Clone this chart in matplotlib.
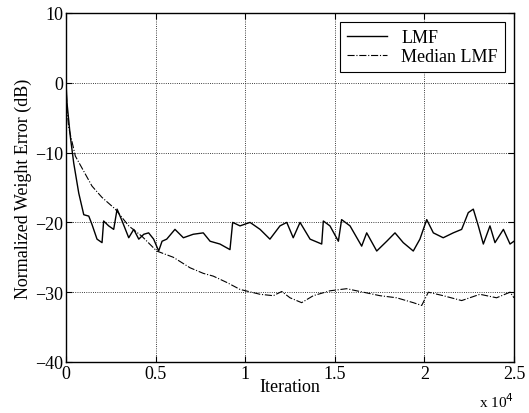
import matplotlib.pyplot as plt

# values (iteration, dB)
lmf_iter = [0, 56, 240, 430, 710, 990, 1270, 1450, 1730, 2010, 2100, 2380, 2660, 2850,
            3130, 3500, 3780, 4060, 4340, 4610, 4890, 5170, 5360, 5620, 6080, 6550, 7100,
            7660, 8040, 8590, 9150, 9300, 9710, 10270, 10830, 11380, 11940, 12320, 12680,
            13060, 13620, 14270, 14360, 14730, 15200, 15380, 15850, 16500, 16780, 17340,
            17900, 18360, 18820, 19380, 19750, 20130, 20500, 21050, 21610, 22080, 22450,
            22730, 23010, 23290, 23660, 23940, 24410, 24780, 25000]
lmf_db = [0, -2.9, -7.7, -11.5, -15.8, -18.9, -19.1, -20.3, -22.4, -22.9, -19.8, -20.5,
          -21.0, -18.1, -19.8, -22.2, -21.0, -22.4, -21.7, -21.5, -22.4, -24.1, -22.7,
          -22.4, -21.0, -22.2, -21.7, -21.5, -22.7, -23.1, -23.9, -20.0, -20.5, -20.0,
          -21.0, -22.4, -20.5, -20.0, -22.2, -20.0, -22.4, -23.1, -19.8, -20.5, -22.7,
          -19.6, -20.5, -23.4, -21.5, -24.1, -22.7, -21.5, -22.9, -24.1, -22.4, -19.6,
          -21.5, -22.2, -21.5, -21.0, -18.6, -18.1, -20.5, -23.1, -20.5, -22.9, -21.0,
          -23.1, -22.7]

med_iter = [0, 56, 150, 520, 1450, 2000, 2750, 3500, 4240, 5060, 5990, 6920, 7660, 8220,
            8970, 9710, 10830, 11570, 12040, 12500, 13150, 13800, 14730, 15660, 16590,
            17520, 18450, 19380, 19850, 20220, 21050, 22080, 23100, 24030, 24780, 25000]
med_db = [0, -3.9, -6.4, -10.5, -14.8, -16.4, -18.1, -20.5, -22.0, -24.1, -25.0, -26.5,
          -27.3, -27.7, -28.6, -29.6, -30.3, -30.5, -29.9, -30.8, -31.5, -30.5, -29.8,
          -29.5, -30.0, -30.5, -30.8, -31.5, -31.9, -30.0, -30.5, -31.2, -30.3, -30.8,
          -30.0, -30.8]

xticks = [0, 0.5, 1, 1.5, 2, 2.5]
yticks = [10, 0, -10, -20, -30, -40]

plt.rcParams['font.family'] = ['Liberation Serif', 'DejaVu Serif']
plt.rcParams['font.size'] = 13

fig = plt.figure(figsize=(5.29, 4.14), dpi=100)
ax = fig.add_axes([0.1248, 0.1232, 0.8468, 0.843])

ax.plot([v / 1e4 for v in lmf_iter], lmf_db, 'k-', linewidth=1.0, label='LMF')
ax.plot([v / 1e4 for v in med_iter], med_db, 'k-.', linewidth=0.8, label='Median LMF')

ax.set_xlim(0, 2.5)
ax.set_ylim(-40, 10)
ax.set_xticks(xticks)
ax.set_xticklabels(['0', '0.5', '1', '1.5', '2', '2.5'])
ax.set_yticks(yticks)
ax.set_yticklabels(['10', '0', '\u221210', '\u221220', '\u221230', '\u221240'])
ax.tick_params(direction='in', length=4, width=0.8, pad=2, top=True, right=True)
ax.grid(True, linestyle=':', color='k', linewidth=0.6)
for s in ax.spines.values():
    s.set_linewidth(1.0)

ax.set_xlabel('Iteration', labelpad=-3)
ax.set_ylabel('Normalized Weight Error (dB)', labelpad=2)
ax.text(1.0, -0.085, 'x 10$^4$', transform=ax.transAxes, ha='right', va='top', fontsize=11)

leg = ax.legend(loc='upper right', fancybox=False, framealpha=1, edgecolor='k',
                handlelength=2.2, borderaxespad=0.5, labelspacing=0.1, fontsize=13)
leg.get_frame().set_linewidth(0.8)

plt.savefig('out.png', dpi=100)
